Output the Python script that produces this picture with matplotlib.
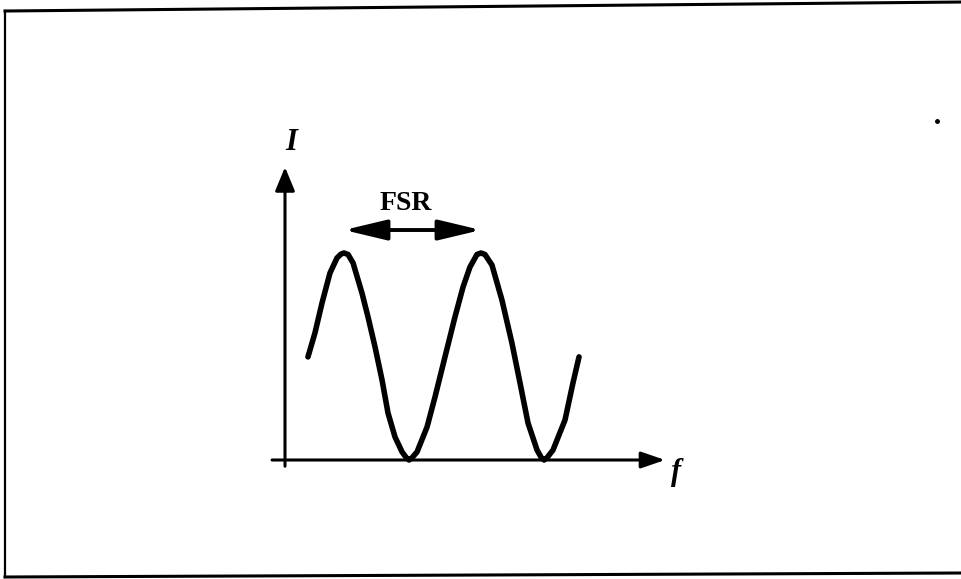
import matplotlib
matplotlib.use("Agg")
import matplotlib.pyplot as plt
from matplotlib.lines import Line2D

# Intensity vs. frequency (frequency in units of FSR, intensity normalised to peak)
freq = [0.170, 0.222, 0.274, 0.333, 0.385, 0.415, 0.437, 0.467, 0.504, 0.570,
        0.615, 0.667, 0.719, 0.763, 0.815, 0.867, 0.900, 0.919, 0.940, 0.978,
        1.052, 1.111, 1.185, 1.259, 1.319, 1.370, 1.422, 1.452, 1.481, 1.533,
        1.607, 1.681, 1.741, 1.800, 1.867, 1.900, 1.919, 1.940, 1.985, 2.074,
        2.133, 2.178]
intensity = [0.498, 0.614, 0.758, 0.903, 0.976, 0.995, 1.000, 0.993, 0.952, 0.807,
             0.691, 0.546, 0.386, 0.227, 0.111, 0.039, 0.010, 0.000, 0.010, 0.039,
             0.159, 0.304, 0.498, 0.691, 0.836, 0.932, 0.993, 1.000, 0.993, 0.942,
             0.773, 0.565, 0.372, 0.179, 0.048, 0.010, 0.000, 0.010, 0.048, 0.193,
             0.372, 0.498]
peak_freqs = [0.437, 1.452]
x_label = "f"
y_label = "I"
fsr_label = "FSR"

W, H = 962, 579
fig = plt.figure(figsize=(W / 100, H / 100), dpi=100)
ax = fig.add_axes([0, 0, 1, 1])
ax.set_xlim(-285 / 135, (W - 285) / 135)
ax.set_ylim((460 - H) / 207, 460 / 207)
ax.axis("off")

# Border (scanned frame, no right edge)
fig.add_artist(Line2D([5 / W, 962 / W], [1 - 11 / H, 1 - 2 / H], color="black", lw=2.2))
fig.add_artist(Line2D([5 / W, 5 / W], [1 - 11 / H, 1 - 577 / H], color="black", lw=1.6))
fig.add_artist(Line2D([5 / W, 962 / W], [1 - 577 / H, 1 - 573 / H], color="black", lw=2.2))
# stray scan dot
fig.add_artist(Line2D([937 / W], [1 - 121 / H], marker="o", ms=2.5, color="black"))

# Axes with arrows
ax.annotate("", xy=(0, 1.415), xytext=(0, -0.03),
            arrowprops=dict(arrowstyle="-|>,head_length=1.45,head_width=0.6",
                            mutation_scale=10, lw=2.2, color="black",
                            shrinkA=0, shrinkB=0))
ax.annotate("", xy=(2.815, 0), xytext=(-0.096, 0),
            arrowprops=dict(arrowstyle="-|>,head_length=1.45,head_width=0.5",
                            mutation_scale=10, lw=2.2, color="black",
                            shrinkA=0, shrinkB=0))

# Curve
ax.plot(freq, intensity, color="black", lw=4.0, solid_capstyle="round",
        solid_joinstyle="round")

# FSR double arrow
ax.annotate("", xy=(peak_freqs[1], 1.111), xytext=(peak_freqs[0], 1.111),
            arrowprops=dict(arrowstyle="<|-|>,head_length=2.6,head_width=0.62",
                            mutation_scale=10, lw=2.8, color="black",
                            shrinkA=0, shrinkB=0))
ax.text(0.896, 1.237, fsr_label, ha="center", va="center",
        fontfamily="Liberation Serif", fontweight="bold", fontsize=20)

ax.text(0.044, 1.536, y_label, ha="center", va="center",
        fontfamily="Liberation Serif", fontweight="bold", fontstyle="italic", fontsize=22)
ax.text(2.896, -0.058, x_label, ha="center", va="center",
        fontfamily="Liberation Serif", fontweight="bold", fontstyle="italic", fontsize=22)

fig.savefig("out.png", dpi=100)
